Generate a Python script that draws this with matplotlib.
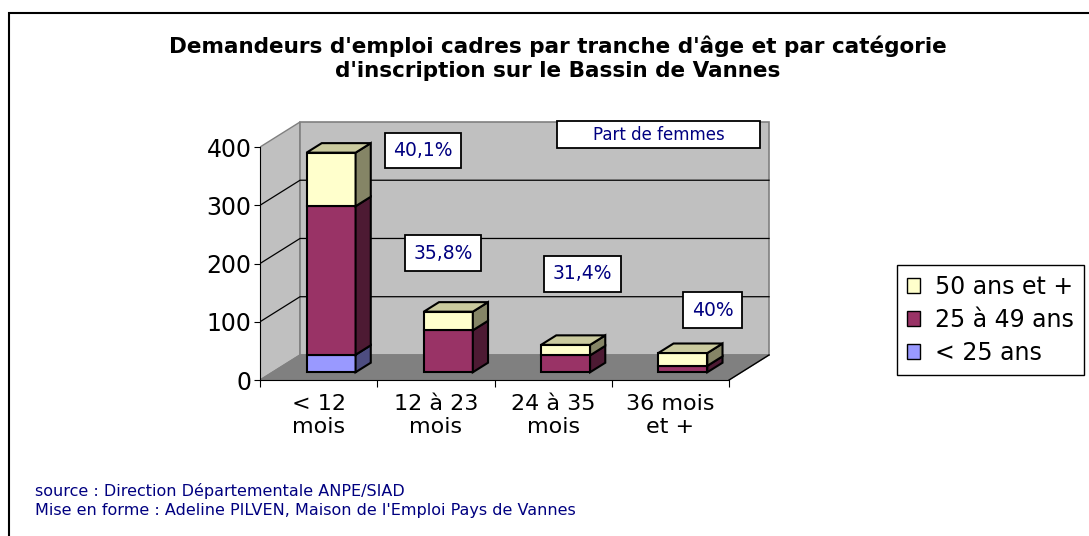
import matplotlib.pyplot as plt
from matplotlib.patches import Polygon, Patch, Rectangle

plt.rcParams['font.family'] = ['DejaVu Sans']

# data
categories = ['< 12\nmois', '12 à 23\nmois', '24 à 35\nmois', '36 mois\net +']
moins_25 = [30, 0, 0, 0]
de_25_49 = [255, 72, 29, 11]
plus_50 = [92, 32, 18, 22]
part_femmes = ['40,1%', '35,8%', '31,4%', '40%']
yticks = [0, 100, 200, 300, 400]

series = [('< 25 ans', moins_25, '#9999FF', '#4D4D80', '#BDBDE0'),
          ('25 à 49 ans', de_25_49, '#993366', '#4D1A33', '#7A2952'),
          ('50 ans et +', plus_50, '#FFFFCC', '#858566', '#CACA9E')]

# pseudo 3d geometry (depth offset in data units)
DX, DY = 0.341, 43.0
F0, F1 = 0.31, 0.69
W = 0.418
YMAX = 400

fig = plt.figure(figsize=(10.89, 5.36), dpi=100)
ax = fig.add_axes([0.2388, 0.2693, 0.4845, 0.5216])
ax.set_xlim(0, 4.5)
ax.set_ylim(-20, 460)
n = len(categories)

# walls and floor
wall = '#C0C0C0'
ax.add_patch(Polygon([(0, 0), (DX, DY), (DX, YMAX + DY), (0, YMAX)],
                     fc=wall, ec='#808080', lw=1, zorder=0))
ax.add_patch(Polygon([(DX, DY), (n + DX, DY), (n + DX, YMAX + DY), (DX, YMAX + DY)],
                     fc=wall, ec='#808080', lw=1.2, zorder=0))
ax.add_patch(Polygon([(0, 0), (n, 0), (n + DX, DY), (DX, DY)],
                     fc='#808080', ec='#808080', lw=1, zorder=0.5))
ax.plot([n, n + DX], [0, DY], color='black', lw=1, zorder=1)
for y in yticks[1:-1]:
    ax.plot([0, DX, n + DX], [y, y + DY, y + DY], color='black', lw=0.9, zorder=1)

# stacked bars
for i in range(n):
    base = 0
    x0 = i + 0.5 - W / 2 + F0 * DX
    x1 = x0 + W
    dd = F1 - F0
    top_col = None
    for name, vals, fc, sc, tc in series:
        v = vals[i]
        if v <= 0:
            continue
        b = base + F0 * DY
        t = b + v
        ax.bar(x0, v, bottom=b, width=W, align='edge', color=fc,
               edgecolor='black', lw=1.5, zorder=3)
        ax.add_patch(Polygon([(x1, b), (x1 + dd * DX, b + dd * DY),
                              (x1 + dd * DX, t + dd * DY), (x1, t)],
                             fc=sc, ec='black', lw=1.5, zorder=3))
        top_col = tc
        base += v
    t = base + F0 * DY
    ax.add_patch(Polygon([(x0, t), (x1, t), (x1 + dd * DX, t + dd * DY),
                          (x0 + dd * DX, t + dd * DY)],
                         fc=top_col, ec='black', lw=1.5, zorder=3))

# axes
for s in ['top', 'right']:
    ax.spines[s].set_visible(False)
ax.spines['left'].set_bounds(0, YMAX)
ax.spines['bottom'].set_position(('data', 0))
ax.spines['bottom'].set_bounds(0, n)
ax.spines['bottom'].set_zorder(2)
ax.set_yticks(yticks)
ax.tick_params(axis='y', labelsize=17, length=4, pad=2)
ax.set_xticks(range(n + 1))
ax.set_xticklabels([])
ax.set_xticks([i + 0.5 for i in range(n)], minor=True)
ax.set_xticklabels(categories, minor=True, fontsize=16, linespacing=1.2)
ax.tick_params(axis='x', which='major', length=5)
ax.tick_params(axis='x', which='minor', length=0, pad=10)

# part de femmes boxes
label_xy = [(1.39, 394), (1.56, 218), (2.75, 182), (3.86, 120)]
for (lx, ly), txt in zip(label_xy, part_femmes):
    ax.text(lx, ly, txt, ha='center', va='center', fontsize=13.5, color='#000080',
            zorder=5, bbox=dict(boxstyle='square,pad=0.45', fc='white', ec='black', lw=1.3))
ax.add_patch(Rectangle((2.533, 398), 1.731, 46.5, fc='white', ec='black', lw=1.3,
                       zorder=5, clip_on=False))
ax.text(3.40, 421, 'Part de femmes', ha='center', va='center', fontsize=12,
        color='#000080', zorder=6)

# legend
handles = [Patch(fc=s[2], ec='black', label=s[0]) for s in series[::-1]]
leg = fig.legend(handles=handles, loc='upper left', bbox_to_anchor=(897 / 1089, 1 - 265 / 536),
                 frameon=True, fancybox=False, edgecolor='black', framealpha=1,
                 fontsize=17, handlelength=0.55, handleheight=0.55, handletextpad=0.65,
                 labelspacing=0.38, borderpad=0.42, borderaxespad=0)
leg.get_frame().set_linewidth(1)

fig.text(0.512, 1 - 58 / 536,
         "Demandeurs d'emploi cadres par tranche d'âge et par catégorie\n"
         "d'inscription sur le Bassin de Vannes",
         ha='center', va='center', fontsize=15.5, fontweight='bold', linespacing=1.25)
fig.text(35 / 1089, 1 - 491 / 536, 'source : Direction Départementale ANPE/SIAD',
         color='#000080', fontsize=11.5, va='center')
fig.text(35 / 1089, 1 - 511 / 536, "Mise en forme : Adeline PILVEN, Maison de l'Emploi Pays de Vannes",
         color='#000080', fontsize=11.5, va='center')
fig.add_artist(Rectangle((9 / 1089, -0.1), 1.2, 1 - 13 / 536 + 0.1, transform=fig.transFigure,
                         fill=False, ec='black', lw=1.5))

fig.savefig('out.png', dpi=100)
